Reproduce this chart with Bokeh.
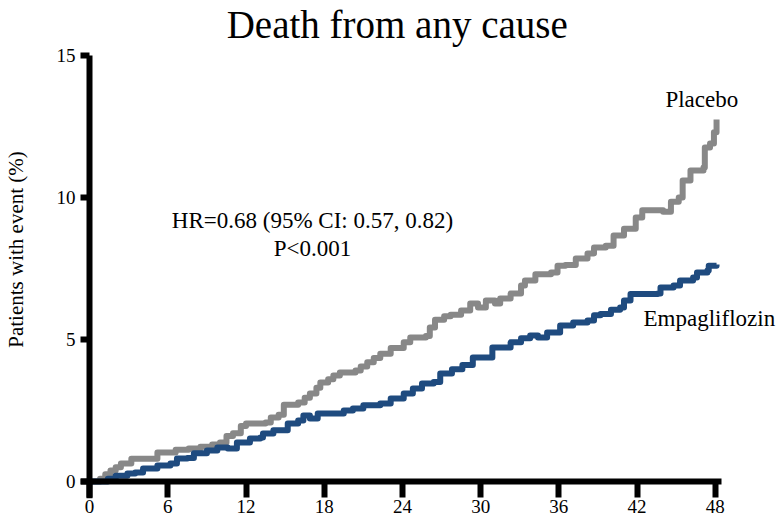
from bokeh.plotting import figure
from bokeh.models import Range1d, FixedTicker, Label, LinearAxis
from bokeh.embed import file_html
from bokeh.resources import INLINE

# Kaplan-Meier style cumulative incidence (%), months
placebo_t = [0, 0.8, 1.2, 1.6, 2.0, 2.4, 3.2, 5.2, 6.6, 7.6, 8.5, 9.4, 10.0, 10.5, 11.0,
             11.6, 12.0, 13.5, 13.9, 14.5, 14.9, 16.0, 16.5, 16.9, 17.4, 17.7, 18.3, 18.7,
             19.2, 20.4, 20.8, 21.3, 21.8, 22.3, 23.1, 24.1, 24.6, 25.8, 26.1, 26.5, 27.2,
             27.7, 28.5, 29.2, 29.8, 30.4, 31.1, 31.5, 32.3, 33.1, 33.4, 34.2, 35.4, 35.9,
             36.5, 37.3, 38.2, 38.7, 39.6, 40.2, 41.0, 41.9, 42.4, 44.0, 44.6, 45.2, 45.5,
             46.1, 47.1, 47.2, 47.6, 47.9, 48.1]
placebo_v = [0, 0.1, 0.25, 0.39, 0.5, 0.63, 0.8, 1.02, 1.12, 1.16, 1.22, 1.3, 1.37, 1.6, 1.7,
             1.95, 2.04, 2.08, 2.25, 2.35, 2.7, 2.78, 2.95, 3.1, 3.3, 3.49, 3.6, 3.73,
             3.84, 3.91, 4.05, 4.2, 4.35, 4.5, 4.7, 4.9, 5.07, 5.12, 5.42, 5.7, 5.82,
             5.87, 6.02, 6.27, 6.13, 6.37, 6.27, 6.44, 6.62, 6.9, 7.08, 7.3, 7.36, 7.6,
             7.62, 7.85, 8.03, 8.24, 8.3, 8.66, 8.9, 9.3, 9.55, 9.5, 9.85, 10.0, 10.6,
             10.95, 11.06, 11.76, 11.9, 12.3, 12.75]

empa_t = [0, 1.4, 2.0, 2.9, 3.5, 4.1, 5.2, 6.2, 6.7, 7.5, 8.0, 9.0, 9.8, 10.6, 11.3, 12.3,
          13.1, 13.3, 14.1, 15.2, 16.0, 16.4, 16.9, 17.5, 19.0, 19.5, 20.2, 21.0, 22.3,
          23.1, 24.1, 24.8, 25.5, 26.4, 26.9, 27.8, 28.6, 29.4, 30.9, 31.7, 32.3, 33.1,
          33.8, 34.4, 35.1, 36.1, 37.1, 38.2, 38.7, 39.2, 40.0, 40.7, 41.0, 41.5, 43.6,
          43.8, 44.8, 45.3, 46.3, 46.6, 47.4, 47.5, 48.1]
empa_v = [0, 0.1, 0.2, 0.28, 0.32, 0.46, 0.56, 0.63, 0.81, 0.83, 0.99, 1.09, 1.2, 1.16, 1.37,
          1.51, 1.55, 1.69, 1.8, 2.04, 2.15, 2.32, 2.22, 2.39, 2.39, 2.5, 2.57, 2.68, 2.75,
          2.92, 3.1, 3.27, 3.45, 3.5, 3.8, 3.95, 4.1, 4.37, 4.72, 4.72, 4.9, 5.04,
          5.14, 5.07, 5.25, 5.49, 5.6, 5.67, 5.85, 5.9, 6.05, 6.13, 6.37, 6.6, 6.62,
          6.83, 6.9, 7.08, 7.18, 7.36, 7.43, 7.6, 7.64]

x_ticks = [0, 6, 12, 18, 24, 30, 36, 42, 48]
y_ticks = [0, 5, 10, 15]

FONT = "Liberation Serif"
GRAY = "#888888"
BLUE = "#1F4B7F"

p = figure(width=776, height=523, x_range=Range1d(-0.7, 52.7), y_range=Range1d(-0.6, 16.94),
           output_backend="svg", toolbar_location=None,
           min_border_left=80, min_border_right=0, min_border_top=0, min_border_bottom=25)

p.grid.visible = False
p.outline_line_color = None

# label-only axes on the frame edges
for ax in (p.xaxis[0], p.yaxis[0]):
    ax.axis_line_color = None
    ax.major_tick_line_color = None
    ax.minor_tick_line_color = None
    ax.major_tick_out = 0
    ax.major_tick_in = 0
    ax.major_label_text_font = FONT
    ax.major_label_text_font_size = "19px"
    ax.major_label_text_color = "black"
p.xaxis[0].ticker = FixedTicker(ticks=x_ticks)
p.yaxis[0].ticker = FixedTicker(ticks=y_ticks)
p.yaxis[0].bounds = (-0.6, 15.0)
p.xaxis[0].major_label_standoff = 1
p.yaxis[0].major_label_standoff = 5

p.yaxis[0].axis_label = "Patients with event (%)"
p.yaxis[0].axis_label_text_font = FONT
p.yaxis[0].axis_label_text_font_size = "21px"
p.yaxis[0].axis_label_text_font_style = "normal"
p.yaxis[0].axis_label_text_color = "black"
p.yaxis[0].axis_label_standoff = 26

# thick axis lines crossing at the origin
xline = LinearAxis(fixed_location=0, bounds=(-0.7, 48.45), ticker=FixedTicker(ticks=x_ticks))
yline = LinearAxis(fixed_location=0, bounds=(-0.6, 15.0), ticker=FixedTicker(ticks=y_ticks))
for ax, out in ((xline, 16), (yline, 10)):
    ax.axis_line_width = 6
    ax.axis_line_color = "black"
    ax.major_tick_line_width = 6
    ax.major_tick_line_color = "black"
    ax.major_tick_in = 0
    ax.major_tick_out = out
    ax.minor_tick_line_color = None
    ax.major_label_text_color = None
    ax.major_label_text_font_size = "1px"
p.add_layout(xline, "below")
p.add_layout(yline, "left")

p.step(placebo_t, placebo_v, mode="after", line_color=GRAY, line_width=6, line_join="round")
p.step(empa_t, empa_v, mode="after", line_color=BLUE, line_width=6, line_join="round")

def lab(x, y, text, size, align="center"):
    p.add_layout(Label(x=x, y=y, text=text, text_font=FONT, text_font_size=size,
                       text_align=align, text_baseline="alphabetic", text_color="black"))

lab(23.6, 16.10, "Death from any cause", "39px")
lab(17.1, 9.19, "HR=0.68 (95% CI: 0.57, 0.82)", "23px")
lab(17.1, 8.2, "P<0.001", "23px")
lab(46.97, 13.46, "Placebo", "23px")
lab(42.5, 5.74, "Empagliflozin", "23px", "left")

open("out.html", "w").write(file_html(p, INLINE))
